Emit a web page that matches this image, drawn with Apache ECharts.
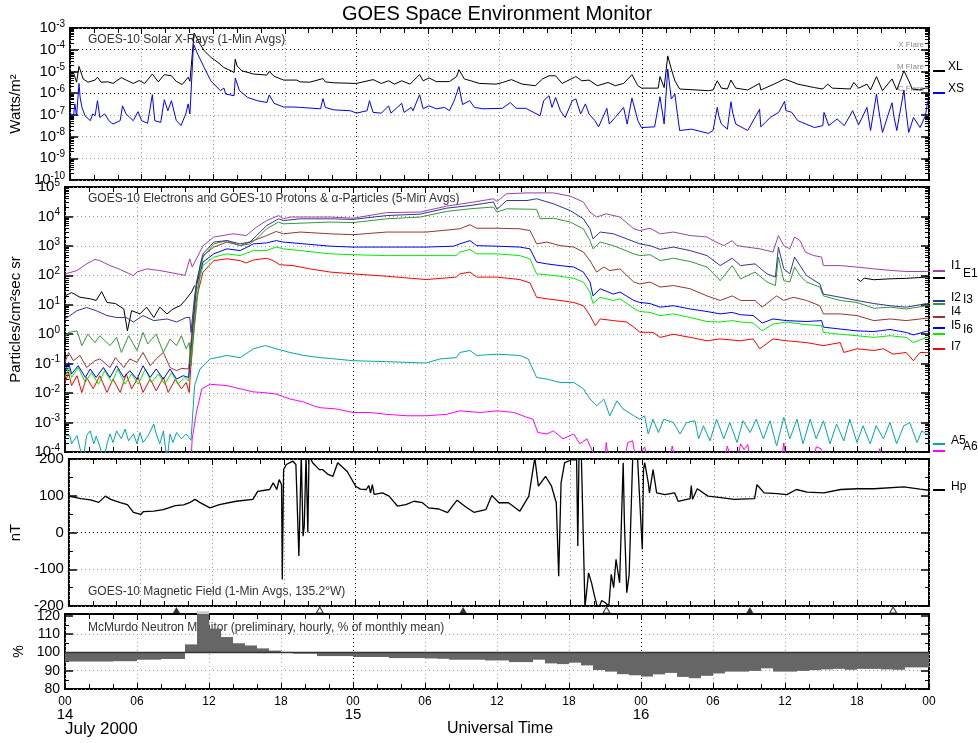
<!DOCTYPE html>
<html>
<head>
<meta charset="utf-8">
<title>GOES Space Environment Monitor</title>
<script src="https://cdn.jsdelivr.net/npm/echarts@6.0.0/dist/echarts.min.js"></script>
<style>html,body{margin:0;padding:0;background:#fff}#main{width:978px;height:743px}</style>
</head>
<body>
<div id="main"></div>
<script>
var myChart = echarts.init(document.getElementById('main'));

// time axis: hours since 00 UT 14 July 2000
var dayLabels = ['14', '15', '16'];

// solar x-rays, W/m^2  [hour, value]
var xlData = [[0,5.2e-6],[0.28,9.1e-6],[0.55,3.2e-6],[0.75,1.7e-5],[1.1,4.5e-6],[1.5,3.2e-6],[2.1,4.0e-6],[2.3,5.4e-6],[2.6,3.2e-6],[3.2,3.3e-6],[3.6,2.8e-6],[4.3,5.2e-6],[4.7,4.0e-6],[5.3,2.8e-6],[5.8,3.8e-6],[6.25,2.8e-6],[6.9,7.6e-6],[7.4,3.3e-6],[7.9,7.1e-6],[8.5,6.3e-6],[8.9,3.5e-6],[9.4,2.5e-6],[9.9,5.4e-6],[10.05,3.5e-6],[10.4,5.9e-4],[10.8,2.2e-4],[11.25,8.9e-5],[11.8,4.5e-5],[12.4,2.6e-5],[12.9,1.5e-5],[13.5,1.07e-5],[13.75,8.9e-6],[13.85,3.7e-5],[14.0,1.8e-5],[14.4,1.07e-5],[15.4,7.6e-6],[16.5,6.8e-6],[16.7,1.0e-5],[17.1,6.0e-6],[17.9,4.0e-6],[19,4.0e-6],[19.3,3.3e-6],[20.1,3.2e-6],[21.2,4.7e-6],[21.4,3.3e-6],[22.1,3.0e-6],[24.0,2.8e-6],[25.4,4.2e-6],[26.1,2.8e-6],[26.7,3.7e-6],[27.2,2.6e-6],[27.8,3.7e-6],[28.5,2.6e-6],[29.3,7.1e-6],[29.6,3.7e-6],[30.1,5.0e-6],[30.7,3.4e-6],[31.8,3.4e-6],[32.4,5.8e-6],[32.6,1.2e-5],[33.05,4.5e-6],[33.6,3.7e-6],[34.3,2.8e-6],[35.7,2.6e-6],[36.25,3.1e-6],[37.0,4.2e-6],[37.9,2.6e-6],[39.0,2.2e-6],[39.6,4.5e-6],[40.15,6.3e-6],[40.7,6.3e-6],[41.25,2.8e-6],[42.4,5.8e-6],[42.9,3.7e-6],[43.5,4.0e-6],[44.2,2.2e-6],[45.1,3.1e-6],[45.7,2.2e-6],[46.4,2.8e-6],[47.1,7.1e-6],[47.6,2.2e-6],[47.9,1.7e-6],[49.3,1.7e-6],[49.45,5.8e-6],[49.8,1.8e-6],[50.1,5.2e-5],[50.4,1.3e-5],[50.7,3.7e-6],[51.1,1.55e-6],[53.5,1.3e-6],[53.9,1.4e-6],[54.25,3.7e-6],[54.6,1.7e-6],[55.1,1.55e-6],[55.4,4.0e-6],[55.8,1.7e-6],[56.8,1.4e-6],[57.8,2.8e-6],[57.9,1.4e-6],[59.0,2.6e-6],[59.9,4.5e-6],[61.0,2.6e-6],[62.4,1.8e-6],[63.1,1.55e-6],[63.5,2.6e-6],[63.9,1.7e-6],[65.4,1.55e-6],[65.7,3.1e-6],[66.1,1.7e-6],[66.8,2.6e-6],[67.1,1.4e-6],[67.6,5.8e-6],[68.1,1.3e-6],[68.9,4.5e-6],[69.3,1.4e-6],[69.9,1.07e-5],[70.3,3.7e-6],[70.6,1.55e-6],[71.25,1.4e-6],[71.7,1.7e-6],[72,1.7e-6]];
var xsData = [[0,9.1e-8],[0.3,9.1e-8],[0.4,3.2e-7],[0.55,9.1e-8],[0.75,2.8e-6],[0.85,6.0e-7],[1.0,2.2e-7],[1.25,9.1e-8],[1.7,5.4e-8],[1.9,1.1e-7],[2.1,9.1e-8],[2.3,4.5e-7],[2.5,7.6e-8],[2.9,1.1e-7],[3.3,5.0e-8],[3.6,3.8e-8],[4.2,5.4e-8],[4.4,2.6e-7],[4.7,1.1e-7],[5.3,5.4e-8],[5.7,1.4e-7],[6.0,5.4e-8],[6.5,4.1e-8],[6.9,8.5e-7],[7.1,5.4e-8],[7.6,4.5e-8],[7.9,5.0e-7],[8.2,1.55e-7],[8.5,4.5e-7],[8.9,5.6e-8],[9.3,3.2e-8],[9.7,1.1e-7],[9.9,3.2e-7],[10.05,1.1e-7],[10.35,1.8e-4],[10.7,6.3e-5],[11.25,1.5e-5],[11.8,3.7e-6],[12.6,1.3e-6],[12.9,1.7e-6],[13.05,9.1e-7],[13.75,7.6e-7],[13.85,5.0e-6],[14.2,1.3e-6],[14.9,6.3e-7],[15.7,4.5e-7],[16.5,3.7e-7],[16.7,8.3e-7],[17.1,3.4e-7],[17.9,2.3e-7],[18.75,2.3e-7],[19.3,2.2e-7],[21.0,1.9e-7],[21.2,5.6e-7],[21.4,2.2e-7],[22.1,1.7e-7],[23.5,1.55e-7],[24.0,1.2e-7],[24.9,1.55e-7],[25.1,4.5e-7],[25.4,1.3e-7],[26.1,1.2e-7],[26.7,2.6e-7],[26.9,1.2e-7],[27.8,3.4e-7],[28.0,1.3e-7],[28.6,2.2e-7],[28.75,1.55e-7],[29.3,8.5e-7],[29.6,1.9e-7],[30.1,2.6e-7],[30.7,1.9e-7],[31.4,2.2e-7],[31.8,1.55e-7],[32.2,4.5e-7],[32.6,2.0e-6],[32.9,3.0e-7],[33.5,4.5e-7],[33.9,2.2e-7],[34.6,1.9e-7],[36.25,2.0e-7],[36.9,3.7e-7],[37.4,2.0e-7],[38.2,2.0e-7],[39.4,9.1e-8],[39.7,4.5e-7],[40.15,7.6e-7],[40.4,2.2e-7],[40.7,6.3e-7],[41.1,1.55e-7],[41.5,7.6e-8],[42.1,4.5e-7],[42.4,5.4e-7],[42.8,1.1e-7],[43.2,3.2e-7],[43.5,1.1e-7],[44.0,5.4e-8],[44.3,2.8e-8],[45.0,2.0e-7],[45.2,3.8e-8],[45.7,7.6e-8],[46.4,2.2e-7],[46.7,3.8e-8],[47.1,5.9e-7],[47.6,5.4e-8],[47.9,2.6e-8],[49.0,2.8e-8],[49.45,6.8e-7],[49.8,3.8e-8],[50.1,1.3e-5],[50.4,5.4e-7],[50.7,9.1e-7],[50.9,1.2e-7],[51.1,1.9e-8],[52.1,2.2e-8],[53.5,1.4e-8],[53.9,1.9e-8],[54.25,2.2e-7],[54.4,8.0e-8],[54.6,3.8e-8],[55.1,2.2e-8],[55.4,4.0e-7],[55.55,1.2e-7],[55.8,3.8e-8],[56.8,1.9e-8],[57.8,1.8e-7],[57.9,2.8e-8],[58.7,7.6e-8],[59.4,1.3e-7],[59.9,4.2e-7],[60.0,1.6e-7],[60.5,1.3e-7],[61.0,5.4e-8],[62.4,2.6e-8],[63.1,3.2e-8],[63.2,1.3e-7],[63.6,3.2e-8],[64.3,6.5e-8],[64.9,3.2e-8],[65.6,1.55e-7],[66.1,3.5e-8],[66.8,2.2e-7],[67.1,1.9e-8],[67.6,9.1e-7],[67.8,1.5e-7],[68.1,1.55e-8],[68.9,3.6e-7],[69.05,9.0e-8],[69.3,1.9e-8],[69.9,1.4e-6],[70.05,2.0e-7],[70.3,1.55e-8],[70.7,7.6e-8],[71.25,2.6e-8],[71.7,9.1e-8],[71.9,4.5e-7]];

// electrons, protons, alphas, particles/cm2 s sr  [hour, value]
var i1Data = [[0,112],[1,145],[1.8,245],[2.5,347],[2.9,316],[3.75,214],[4.6,158],[5.7,98],[6.0,129],[6.8,166],[7.9,145],[9.0,120],[10.0,100],[10.4,363],[10.6,191],[10.95,363],[11.5,1000],[12.4,2000],[14.0,2570],[15.1,2240],[15.97,4370],[16.8,7240],[17.8,10700],[18.2,8300],[18.75,9550],[22.1,9550],[24,8700],[26.8,13500],[29.6,14100],[31.8,22400],[33.75,29500],[35.7,39800],[36.0,32400],[36.8,58900],[38.5,63100],[40.7,63100],[42.1,49000],[43.2,30900],[43.75,14100],[44.3,9550],[45.1,12300],[46.25,9550],[47.4,3800],[47.9,3310],[48.75,3980],[49.6,2570],[50.7,2950],[52.1,2240],[53.5,2000],[54.0,1510],[54.9,1020],[55.6,1510],[56.0,1020],[56.8,912],[57.9,794],[59.0,617],[59.45,2240],[59.9,1020],[60.4,794],[60.8,2000],[61.25,1510],[61.7,617],[62.4,468],[63.05,417],[63.2,214],[64.6,214],[66,191],[67.4,166],[69,145],[70.1,135],[71.8,135],[72,135]];
var e1Data = [[0,20],[0.55,26],[1.25,18],[2.1,16],[2.6,14],[3.05,28],[3.5,12],[4.2,11],[4.9,7.2],[5.2,1.3],[5.55,6.3],[6.25,4.9],[6.8,8.3],[7.4,3.7],[7.9,8.3],[8.5,4.9],[9.0,7.2],[9.6,9.3],[10.0,14],[10.55,27],[10.8,45],[11,null],[66,76],[66.3,62],[66.6,80],[67.4,71],[68.75,76],[70.1,79],[71.8,87],[72,87]];
var i2Data = [[0,3.3],[1,6.3],[1.8,8.1],[2.6,6.3],[3.5,4.3],[4.3,3.7],[5.1,3.7],[5.7,2.6],[6.5,4.3],[7.4,2.9],[8.5,3.3],[9.3,2.6],[10.1,3.7],[10.4,3.7],[10.5,1.15],[10.8,20],[11.25,214],[11.5,537],[12.4,1350],[13.5,1510],[14.6,1170],[15.4,1350],[15.97,2240],[16.8,4900],[17.8,8300],[18.2,7240],[19.6,8300],[22.1,8300],[24,7940],[26.8,10700],[29.6,12000],[31.8,19100],[33.75,23400],[35.7,30900],[36.0,17400],[36.8,34700],[38.5,34700],[39.3,39800],[40.7,26900],[42.1,15800],[43.2,8300],[43.75,3800],[44.0,1740],[44.6,2950],[45.7,2570],[46.8,1740],[47.9,1170],[48.75,1020],[49.6,759],[50.7,912],[52.1,692],[53.5,468],[54.6,214],[55.6,380],[56.3,214],[57.5,245],[58.5,112],[59.2,87],[59.45,912],[59.9,166],[60.4,112],[60.8,417],[61.25,214],[61.8,98],[62.9,51],[63.2,23],[64.6,18],[66,14],[67.4,11],[68.75,9.3],[70.1,8.3],[71.8,11],[72,11]];
var i3Data = [[0,0.78],[0.3,1.15],[1,1.3],[1.4,0.41],[1.9,1.0],[2.5,0.52],[2.9,0.89],[3.75,0.41],[4.3,0.78],[4.7,0.24],[5.3,0.89],[6.0,0.28],[6.5,1.15],[6.9,0.47],[7.6,1.0],[8.2,0.24],[8.75,0.69],[9.3,0.41],[9.7,0.89],[10.1,0.32],[10.35,0.52],[10.5,0.085],[10.8,1.95],[11.25,129],[11.5,417],[12.4,1170],[13.5,1510],[14.6,1020],[15.4,1170],[15.97,1740],[16.8,3800],[17.8,6460],[18.2,5620],[22.1,6460],[24,6170],[26.8,8300],[29.6,9550],[31.8,14800],[33.75,18200],[35.7,20900],[36.0,14100],[36.8,18200],[39.3,17400],[39.6,8300],[40.7,8700],[42.1,6460],[43.2,3800],[43.75,1510],[44.0,794],[44.6,1350],[45.7,1020],[47.4,537],[47.9,468],[48.75,501],[49.6,316],[50.7,380],[52.1,295],[53.5,191],[54.6,66],[55.6,214],[56.3,76],[57.5,129],[58.5,59],[59.2,45],[59.45,417],[59.9,66],[60.4,59],[60.8,191],[61.25,98],[61.8,59],[62.9,40],[63.2,20],[64.6,14],[66,12],[67.4,7.6],[68.75,8.3],[70.1,7.2],[71.8,9.3],[72,9.3]];
var i4Data = [[0,0.11],[0.3,0.24],[0.7,0.126],[1.25,0.19],[1.8,0.074],[2.5,0.126],[2.9,0.145],[3.75,0.074],[4.2,0.16],[4.9,0.074],[5.4,0.145],[6.0,0.11],[6.5,0.24],[7.1,0.085],[7.6,0.145],[8.2,0.24],[8.75,0.074],[9.3,0.058],[9.7,0.069],[10.3,0.066],[10.55,0.89],[10.95,59],[11.5,468],[12.4,912],[13.5,1350],[14.6,1020],[15.7,1510],[16.8,2240],[17.6,3090],[18.2,2570],[19.6,2950],[22.1,2570],[24,2400],[26.8,2950],[30.1,2950],[32.9,3800],[33.75,5250],[34.3,3980],[36,3980],[37.9,3800],[38.75,3310],[39.3,1170],[40.15,1350],[41.25,1020],[42.4,912],[43.2,617],[43.75,316],[44.3,129],[44.9,191],[45.4,145],[46.25,166],[47.4,59],[47.9,51],[48.75,59],[49.6,40],[50.7,45],[52.1,35],[53.5,20],[54.6,14],[55.6,20],[56.3,14],[57.5,14],[58.1,8.3],[59.3,20],[59.9,14],[60.7,18],[61.8,14],[62.9,9.3],[63.2,4.9],[64.6,4.9],[66,4.3],[67.4,2.9],[68.75,3.3],[70.1,2.9],[71.8,3.5],[72,3.5]];
var i5Data = [[0,0.05],[0.3,0.11],[0.55,0.045],[1.1,0.085],[1.7,0.034],[2.1,0.066],[2.6,0.034],[3.2,0.074],[3.75,0.034],[4.3,0.085],[4.9,0.034],[5.4,0.058],[6.0,0.03],[6.5,0.085],[7.1,0.034],[7.6,0.066],[8.2,0.03],[8.75,0.066],[9.3,0.03],[9.85,0.039],[10.3,0.034],[10.6,1.15],[10.95,45],[11.5,282],[12.4,537],[13.5,794],[14.6,692],[15.7,1170],[16.8,1260],[17.6,1510],[18.2,1350],[22.1,977],[24,912],[26.8,912],[30.1,912],[32.4,977],[32.9,1170],[33.75,1510],[34.3,1020],[36,977],[37.9,912],[38.75,794],[39.3,282],[40.15,245],[41.25,214],[42.4,191],[43.2,129],[43.75,59],[44.0,20],[44.6,35],[45.7,23],[46.25,27],[47.4,14],[47.9,12],[48.75,11],[49.6,8.3],[50.7,9.3],[52.1,7.2],[53.5,5.9],[54.6,4.9],[55.6,5.5],[56.3,4.6],[57.35,4.3],[58.1,2.4],[59,3.3],[60.1,2.9],[61.8,2.7],[63.05,2.9],[63.2,1.74],[64.6,1.5],[66,1.3],[67.4,1.23],[68.75,1.45],[70.1,1.15],[70.7,0.95],[71.8,1.26],[72,1.26]];
var i6Data = [[0,0.034],[0.3,0.074],[0.55,0.034],[1.1,0.074],[1.7,0.023],[2.2,0.05],[2.8,0.02],[3.3,0.058],[3.9,0.023],[4.4,0.066],[5.0,0.02],[5.55,0.045],[6.1,0.02],[6.7,0.066],[7.2,0.023],[7.8,0.045],[8.3,0.02],[8.9,0.05],[9.4,0.02],[10.0,0.034],[10.3,0.026],[10.6,0.69],[10.95,27],[11.5,214],[12.4,417],[13.5,537],[14.6,468],[15.7,692],[16.8,692],[17.6,912],[18.2,794],[22.1,537],[24,501],[26.8,468],[30.1,468],[32.6,468],[32.9,617],[33.75,759],[34.3,537],[36,537],[37.9,468],[38.75,363],[39.3,112],[40.15,105],[41.25,93],[42.4,79],[43.2,59],[43.75,27],[44.0,11],[44.6,18],[45.7,14],[46.25,16],[47.4,7.6],[47.9,5.9],[48.75,5.5],[49.6,4.3],[50.7,4.9],[52.1,3.7],[53.5,2.7],[54.6,2.6],[55.6,2.9],[56.3,2.6],[57.35,2.4],[58.1,1.3],[59,2.2],[60.1,2.6],[61.8,2.1],[63.05,1.95],[63.2,1.15],[64.6,1.0],[66,0.89],[67.4,0.78],[68.75,0.89],[70.1,0.78],[70.7,0.52],[71.8,0.78],[72,0.78]];
var i7Data = [[0,0.023],[0.3,0.05],[0.55,0.018],[1.0,0.039],[1.4,0.0105],[1.8,0.034],[2.35,0.014],[2.9,0.039],[3.5,0.0105],[4.0,0.03],[4.6,0.0105],[5.1,0.045],[5.55,0.014],[6.1,0.034],[6.5,0.0105],[7.1,0.03],[7.6,0.012],[8.2,0.034],[8.6,0.0105],[9.2,0.03],[9.7,0.014],[10.1,0.023],[10.35,0.0105],[10.6,0.41],[10.95,16],[11.5,129],[12.4,316],[13.5,363],[14.6,316],[15.1,263],[15.7,331],[16.8,380],[17.35,316],[17.9,229],[19,214],[20.4,166],[22.1,129],[24,112],[26.8,93],[30.1,72],[32.6,87],[32.9,112],[33.75,129],[34.3,87],[36,87],[37.9,72],[38.75,55],[39.3,18],[40.15,16],[41.25,14],[42.4,12],[43.2,9.3],[43.75,4.3],[44.2,1.95],[44.6,3.3],[45.7,2.9],[46.8,2.6],[47.4,1.74],[47.9,1.17],[49,1.15],[49.6,0.78],[50.7,1.0],[52.1,0.78],[53.5,0.6],[54.6,0.69],[56.25,0.6],[57.35,0.69],[57.9,0.32],[59,0.69],[60.1,0.6],[61.8,0.52],[63.2,0.41],[64.6,0.52],[64.9,0.24],[66,0.32],[67.4,0.28],[68.2,0.32],[69,0.21],[70.1,0.24],[70.7,0.126],[71.25,0.24],[71.8,0.24],[72,0.24]];
var a5Data = [[0,3.6e-4],[0.4,3.6e-4],[0.55,1.9e-4],[1.0,3.6e-4],[1.5,5e-5],[1.8,3.6e-4],[2.1,5.2e-4],[2.4,1.9e-4],[2.6,3.4e-4],[2.9,1.6e-4],[3.2,5e-5],[3.5,1.9e-4],[3.75,4.1e-4],[4.0,2.1e-4],[4.3,5.2e-4],[4.7,2.8e-4],[5.0,6.0e-4],[5.3,2.4e-4],[5.7,4.1e-4],[6.0,1.9e-4],[6.25,4.6e-4],[6.5,2.1e-4],[6.9,3.4e-4],[7.4,8.9e-4],[7.6,4.1e-4],[7.9,1.9e-4],[8.2,5.2e-4],[8.5,5e-5],[8.75,4.1e-4],[9.0,2.1e-4],[9.3,4.6e-4],[9.7,2.8e-4],[10.1,4.1e-4],[10.5,2.5e-4],[10.8,0.018],[11.25,0.066],[12.1,0.145],[13.5,0.19],[14.6,0.16],[15.7,0.32],[16.7,0.41],[17.6,0.32],[18.75,0.24],[19.9,0.19],[21.25,0.16],[22.1,0.15],[24,0.126],[26.8,0.117],[30.1,0.105],[31.25,0.145],[32.6,0.16],[32.9,0.24],[33.75,0.28],[34.3,0.19],[36,0.21],[37.9,0.19],[38.6,0.145],[39.3,0.034],[40.15,0.03],[41.25,0.023],[42.4,0.023],[43.2,0.014],[43.75,0.0063],[44.3,0.0037],[44.9,0.0063],[45.4,0.0017],[46.0,0.0055],[46.5,0.0029],[47.4,0.0017],[47.9,0.0013],[48.3,0.0017],[48.6,4.1e-4],[49.0,1.3e-3],[49.45,4.6e-4],[49.9,1.3e-3],[50.7,1.0e-3],[51.25,4.1e-4],[51.8,1.0e-3],[52.5,1.15e-3],[52.8,2.8e-4],[53.2,7.8e-4],[53.75,2.4e-4],[54.3,1.3e-3],[54.9,2.8e-4],[55.4,1.0e-3],[56.0,2.1e-4],[56.5,1.15e-3],[57.1,4.6e-4],[57.6,1.3e-3],[58.2,2.8e-4],[58.75,1.15e-3],[59.3,1.6e-4],[59.9,1.5e-3],[60.4,2.8e-4],[61.0,1.3e-3],[61.5,1.9e-4],[62.1,1.3e-3],[62.6,2.8e-4],[63.2,1.15e-3],[63.75,1.9e-4],[64.3,8.9e-4],[64.9,2.4e-4],[65.4,1.3e-3],[66.0,2.1e-4],[66.5,7.8e-4],[67.1,1.9e-4],[67.6,7.8e-4],[68.2,2.8e-4],[68.75,1.0e-3],[69.3,1.9e-4],[69.9,7.8e-4],[70.4,1.0e-3],[71.0,2.1e-4],[71.4,5.2e-4],[71.8,4.1e-4],[72,4.1e-4]];
var a6Data = [[0,5e-5],[5.0,5e-5],[5.1,1.1e-4],[5.2,5e-5],[8.4,5e-5],[8.5,1.1e-4],[8.6,5e-5],[10.5,5e-5],[10.6,2.8e-4],[10.95,2.2e-3],[11.4,0.014],[12.1,0.02],[13.5,0.018],[14.6,0.014],[15.7,0.011],[16.5,0.0105],[17.6,0.0093],[18.75,0.0063],[19.9,0.005],[20.7,0.0037],[21.25,0.0032],[22.6,0.0029],[24,0.0022],[25.4,0.0022],[26.8,0.0019],[28.5,0.0017],[30.1,0.0017],[31.8,0.0019],[32.9,0.0025],[34.6,0.0022],[36,0.0025],[37.4,0.0022],[38.5,0.0015],[39.0,0.0013],[39.4,4.6e-4],[40.15,4.1e-4],[40.7,5.2e-4],[41.5,2.8e-4],[42.4,4.1e-4],[42.9,1.9e-4],[43.5,2.8e-4],[44.3,5e-5],[45.0,5e-5],[45.1,2.1e-4],[45.3,5e-5],[46.6,5e-5],[46.9,2.1e-4],[47.3,2.4e-4],[47.6,5e-5],[48.3,1.5e-4],[48.6,5e-5],[50.4,5e-5],[50.6,1.6e-4],[50.9,5e-5],[54.9,5e-5],[55.2,1.6e-4],[55.5,5e-5],[56.0,5e-5],[56.3,1.9e-4],[56.6,1.2e-4],[56.9,1.8e-4],[57.1,5e-5],[59.7,5e-5],[59.9,2.0e-4],[60.1,5e-5],[62.4,5e-5],[62.6,1.5e-4],[63.0,1.3e-4],[63.2,5e-5],[67.8,5e-5],[67.9,1.3e-4],[68.0,5e-5],[72,5e-5]];

// magnetic field Hp, nT  [hour, value]
var hpData = [[0,99],[1,92],[1.8,89],[2.5,82],[3.05,99],[3.5,90],[4.3,81],[4.9,76],[5.4,55],[6.0,49],[6.25,57],[7.1,58],[7.9,62],[8.9,73],[9.6,75],[10.1,81],[10.55,90],[10.95,82],[11.8,67],[12.6,76],[14.0,85],[15.4,90],[15.8,112],[16.8,117],[17.1,135],[17.4,117],[17.6,144],[17.8,130],[17.86,-128],[17.97,171],[18.2,185],[18.75,194],[19.0,185],[19.25,-64],[19.45,210],[19.6,-10],[19.7,17],[19.85,210],[20.0,0],[20.1,210],[20.4,190],[20.97,171],[21.25,171],[21.7,158],[21.8,162],[22.1,153],[22.5,190],[23.3,166],[24.0,126],[24.4,118],[24.9,117],[25.1,128],[25.25,108],[25.4,130],[25.55,104],[25.7,99],[26.25,108],[26.8,99],[27.5,72],[28.2,76],[28.9,85],[29.6,81],[30.1,67],[30.97,64],[31.7,54],[32.2,76],[32.5,88],[33.2,70],[33.9,55],[34.9,62],[35.4,101],[36.0,81],[36.8,81],[37.75,58],[38.5,99],[39.0,203],[39.3,126],[39.9,153],[40.4,126],[40.8,81],[41.0,-119],[41.2,135],[41.5,190],[42.1,198],[42.5,198],[42.6,-37],[42.7,210],[42.9,205],[43.2,-204],[43.5,-110],[43.75,-137],[44.0,-173],[44.3,-210],[44.6,-185],[44.9,-191],[45.2,-200],[45.4,-114],[45.6,-150],[45.8,-73],[46.1,-137],[46.4,190],[46.5,30],[46.7,-164],[46.9,-114],[47.2,207],[47.6,203],[48.0,-46],[48.1,171],[48.2,190],[48.5,135],[48.6,108],[48.9,171],[49.2,108],[49.9,103],[50.7,108],[51.0,85],[52.0,92],[52.1,128],[52.2,90],[52.6,119],[53.5,99],[54.6,95],[55.7,90],[57.4,92],[57.6,130],[58.2,108],[59.3,106],[60.1,103],[60.9,117],[61.8,110],[63.2,108],[64.6,117],[66.0,119],[67.4,119],[69.9,124],[71.25,118],[72,115]];
// satellite local noon / midnight markers, hours
var noonMarks = [9, 33, 57];
var midnightMarks = [21, 45, 69];

// McMurdo neutron monitor, hourly, % of monthly mean
var neutronPct = [95,95,95,95,95.2,95.2,96,96,96.4,96.4,104.4,122.5,113,108.4,105,103.8,102.2,101,100.3,99.3,99.3,98,98,98,97.5,97.5,97.5,96.9,96.9,96.9,96.7,96.5,96,96,96,95.6,95.6,94.7,94.7,96,94,93.6,94.4,92.9,90.4,89.5,88.1,87.5,86.8,88,88.8,86.6,85.9,87.2,88.5,89.5,89.5,89.9,91.3,89.5,89.5,89.9,90.3,90.7,91,90.5,91,91,90.7,90.5,91.8,91.8];
var neutronBase = 100;

var FONT = '"Liberation Sans", Arial, Helvetica, sans-serif';
var GRIDS = [
    { top: 28, height: 152 },
    { top: 187, height: 265 },
    { top: 459, height: 147 },
    { top: 614, height: 75 }
];
var GRAY = '#999999';
var xLineColors = [GRAY, GRAY, GRAY, GRAY, '#000', GRAY, GRAY, GRAY, '#000', GRAY, GRAY, GRAY, GRAY];

function powLabel(v) {
    var e = Math.round(Math.log(v) / Math.LN10);
    return '{b|10}{s|' + e + '}';
}
var powRich = {
    b: { fontSize: 15, color: '#000', lineHeight: 18, fontFamily: FONT },
    s: { fontSize: 10, color: '#000', lineHeight: 10, verticalAlign: 'top', fontFamily: FONT }
};

var xAxes = [], yAxes = [];
GRIDS.forEach(function (g, i) {
    xAxes.push({
        gridIndex: i, type: 'value', min: 0, max: 72, interval: 6, position: 'bottom',
        axisLine: { show: false, onZero: false },
        axisTick: { show: true, inside: true, length: 6, lineStyle: { color: '#000' } },
        minorTick: { show: true, splitNumber: 3, length: 5, lineStyle: { color: '#000' } },
        splitLine: { show: true, lineStyle: { color: xLineColors, type: [1, 3], width: 1 } },
        axisLabel: i === 3 ? {
            show: true, margin: 6, fontSize: 12, lineHeight: 14, color: '#000', fontFamily: FONT,
            formatter: function (v) {
                var h = v % 24;
                var s = (h < 10 ? '0' : '') + h;
                if (h === 0 && v < 72) s += '\n{d|' + dayLabels[v / 24] + '}';
                return s;
            },
            rich: { d: { fontSize: 15, lineHeight: 12, color: '#000', fontFamily: FONT } }
        } : { show: false }
    });
    xAxes.push({
        gridIndex: i, type: 'value', min: 0, max: 72, interval: 6, position: 'top',
        axisLine: { show: false, onZero: false },
        axisTick: { show: true, inside: true, length: 6, lineStyle: { color: '#000' } },
        minorTick: { show: true, splitNumber: 3, length: 5, lineStyle: { color: '#000' } },
        splitLine: { show: false }, axisLabel: { show: false }
    });
});

var yBase = [
    { type: 'log', min: 1e-10, max: 1e-3, splitNumber: 7, name: 'Watts/m²',
      lineColors: [GRAY, GRAY, GRAY, GRAY, '#000', '#000', '#000', GRAY] },
    { type: 'log', min: 1e-4, max: 1e5, splitNumber: 9, name: 'Particles/cm²sec sr',
      lineColors: [GRAY] },
    { type: 'value', min: -200, max: 200, interval: 100, name: 'nT',
      lineColors: [GRAY, GRAY, '#000', GRAY, GRAY] },
    { type: 'value', min: 80, max: 121, interval: 10, name: '%',
      lineColors: [GRAY, GRAY, 'transparent', GRAY, 'transparent', 'transparent'] }
];
yBase.forEach(function (b, i) {
    var common = { gridIndex: i, type: b.type, min: b.min, max: b.max };
    if (b.type === 'log') { common.logBase = 10; common.splitNumber = b.splitNumber; }
    else { common.interval = b.interval; }
    var label;
    if (b.type === 'log') {
        label = { show: true, margin: 5, formatter: powLabel, rich: powRich };
    } else if (i === 2) {
        label = { show: true, margin: 5, fontSize: 15, color: '#000', fontFamily: FONT };
    } else {
        label = { show: true, margin: 5, fontSize: 14, color: '#000', fontFamily: FONT,
                  formatter: function (v) { return v % 10 === 0 ? String(v) : ''; } };
    }
    var minor = { show: true, splitNumber: b.type === 'log' ? 9 : 2, length: 4, lineStyle: { color: '#000' } };
    yAxes.push(Object.assign({}, common, {
        position: 'left',
        name: b.name, nameLocation: 'middle', nameRotate: 90,
        nameGap: 34,
        nameTextStyle: { fontSize: i === 3 ? 14 : 15, color: '#000', fontFamily: FONT },
        axisLine: { show: false, onZero: false },
        axisTick: { show: true, inside: true, length: 8, lineStyle: { color: '#000', width: 1.5 } },
        minorTick: minor,
        splitLine: { show: true, lineStyle: { color: b.lineColors, type: [1, 3], width: 1 } },
        axisLabel: label
    }));
    yAxes.push(Object.assign({}, common, {
        position: 'right',
        axisLine: { show: false, onZero: false },
        axisTick: { show: true, inside: true, length: 8, lineStyle: { color: '#000', width: 1.5 } },
        minorTick: minor,
        splitLine: { show: false }, axisLabel: { show: false }
    }));
});

function lineSeries(name, data, color, gi, width) {
    return {
        name: name, type: 'line', data: data, xAxisIndex: gi * 2, yAxisIndex: gi * 2,
        showSymbol: false, symbol: 'none', connectNulls: false, clip: true,
        lineStyle: { color: color, width: width || 1 }, silent: true, z: 3
    };
}

var series = [
    lineSeries('XL', xlData, '#000000', 0),
    lineSeries('XS', xsData, '#0000ff', 0),
    lineSeries('A6', a6Data, '#ff00ff', 1),
    lineSeries('A5', a5Data, '#00a8a8', 1),
    lineSeries('E1', e1Data, '#000000', 1),
    lineSeries('I7', i7Data, '#ff0000', 1),
    lineSeries('I6', i6Data, '#00ee00', 1),
    lineSeries('I5', i5Data, '#0000ff', 1),
    lineSeries('I4', i4Data, '#993333', 1),
    lineSeries('I3', i3Data, '#339933', 1),
    lineSeries('I2', i2Data, '#333399', 1),
    lineSeries('I1', i1Data, '#a040a8', 1),
    lineSeries('Hp', hpData, '#000000', 2, 1.3),
    {
        name: 'noon', type: 'scatter', xAxisIndex: 4, yAxisIndex: 4, clip: false, silent: true,
        data: noonMarks.map(function (h) { return [h, -200]; }),
        symbol: 'triangle', symbolSize: [7, 6], symbolOffset: [0, 4],
        itemStyle: { color: '#000' }, z: 5
    },
    {
        name: 'midnight', type: 'scatter', xAxisIndex: 4, yAxisIndex: 4, clip: false, silent: true,
        data: midnightMarks.map(function (h) { return [h, -200]; }),
        symbol: 'triangle', symbolSize: [7, 6], symbolOffset: [0, 4],
        itemStyle: { color: '#fff', borderColor: '#000', borderWidth: 1 }, z: 5
    },
    {
        name: 'Neutron', type: 'custom', xAxisIndex: 6, yAxisIndex: 6, silent: true, z: 2,
        data: neutronPct.map(function (v, h) { return [h, v]; }),
        renderItem: function (params, api) {
            var h = api.value(0), v = api.value(1);
            var top = 121;
            var p0 = api.coord([h, neutronBase]);
            var p1 = api.coord([h + 1, Math.min(v, top)]);
            var kids = [{
                type: 'rect',
                shape: { x: p0[0], y: Math.min(p0[1], p1[1]), width: p1[0] - p0[0], height: Math.abs(p1[1] - p0[1]) },
                style: { fill: '#666666' }
            }];
            if (v > top) {
                var p2 = api.coord([h + 1, v]);
                kids.push({
                    type: 'rect',
                    shape: { x: p0[0], y: p2[1], width: p1[0] - p0[0], height: p1[1] - p2[1] },
                    style: { fill: '#cccccc' }
                });
            }
            return { type: 'group', children: kids };
        }
    },
    {
        name: 'base', type: 'line', xAxisIndex: 6, yAxisIndex: 6, silent: true, symbol: 'none', z: 3,
        data: [[0, neutronBase], [72, neutronBase]],
        lineStyle: { color: '#333', width: 1.5 }
    }
];

function tag(text, x, y, dashY, dashColor) {
    return [{
        type: 'text', x: x, y: y,
        style: { text: text, font: '12px ' + FONT, fill: '#000', textVerticalAlign: 'middle' }
    }, {
        type: 'line', shape: { x1: 933, y1: dashY, x2: 945, y2: dashY },
        style: { stroke: dashColor, lineWidth: 2 }
    }];
}

var graphics = [
    { type: 'text', x: 497, y: 14, style: { text: 'GOES Space Environment Monitor', font: '20px ' + FONT, fill: '#000', textAlign: 'center', textVerticalAlign: 'middle' } },
    { type: 'text', x: 88, y: 40, z: 1, style: { text: 'GOES-10 Solar X-Rays (1-Min Avgs)', font: '12px ' + FONT, fill: '#333', textVerticalAlign: 'middle' } },
    { type: 'text', x: 88, y: 199, z: 1, style: { text: 'GOES-10 Electrons and GOES-10 Protons & α-Particles (5-Min Avgs)', font: '12px ' + FONT, fill: '#333', textVerticalAlign: 'middle' } },
    { type: 'text', x: 88, y: 592, z: 1, style: { text: 'GOES-10 Magnetic Field (1-Min Avgs, 135.2°W)', font: '12px ' + FONT, fill: '#333', textVerticalAlign: 'middle' } },
    { type: 'text', x: 88, y: 628, z: 1, style: { text: 'McMurdo Neutron Monitor (preliminary, hourly, % of monthly mean)', font: '12px ' + FONT, fill: '#333', textVerticalAlign: 'middle' } },
    { type: 'text', x: 924, y: 45, style: { text: 'X Flare', font: '8px ' + FONT, fill: '#888', textAlign: 'right', textVerticalAlign: 'middle' } },
    { type: 'text', x: 924, y: 67, style: { text: 'M Flare', font: '8px ' + FONT, fill: '#888', textAlign: 'right', textVerticalAlign: 'middle' } },
    { type: 'text', x: 924, y: 89, style: { text: 'C Flare', font: '8px ' + FONT, fill: '#888', textAlign: 'right', textVerticalAlign: 'middle' } },
    { type: 'text', x: 65, y: 729, style: { text: 'July 2000', font: '17px ' + FONT, fill: '#000', textVerticalAlign: 'middle' } },
    { type: 'text', x: 500, y: 729, style: { text: 'Universal Time', font: '16px ' + FONT, fill: '#000', textAlign: 'center', textVerticalAlign: 'middle' } }
]
.concat(tag('XL', 948, 67, 71, '#000'))
.concat(tag('XS', 948, 89, 93, '#0000ff'))
.concat(tag('I1', 951, 266, 271, '#a040a8'))
.concat(tag('E1', 963, 274, 278, '#000'))
.concat(tag('I2', 951, 298, 301, '#333399'))
.concat(tag('I3', 963, 300, 304, '#339933'))
.concat(tag('I4', 951, 312, 317, '#993333'))
.concat(tag('I5', 951, 326, 328, '#0000ff'))
.concat(tag('I6', 963, 330, 334, '#00ee00'))
.concat(tag('I7', 951, 347, 349, '#ff0000'))
.concat(tag('A5', 951, 441, 444, '#00a8a8'))
.concat(tag('A6', 963, 447, 451, '#ff00ff'))
.concat(tag('Hp', 951, 487, 490, '#000'));

option = {
    animation: false,
    backgroundColor: '#fff',
    textStyle: { fontFamily: FONT },
    grid: GRIDS.map(function (g) {
        return { left: 65, right: 49, top: g.top, height: g.height, show: true, borderColor: '#000', borderWidth: 2, backgroundColor: 'transparent' };
    }),
    xAxis: xAxes,
    yAxis: yAxes,
    series: series,
    graphic: graphics
};

myChart.setOption(option);
</script>
</body>
</html>
